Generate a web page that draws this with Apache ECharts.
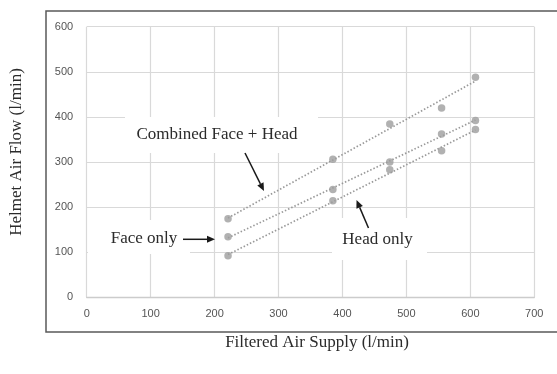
<!DOCTYPE html>
<html>
<head>
<meta charset="utf-8">
<script src="https://cdn.jsdelivr.net/npm/echarts@6/dist/echarts.min.js"></script>
<style>
html,body{margin:0;padding:0;background:#fff;}
#c{width:557px;height:374px;}
</style>
</head>
<body>
<div id="c"></div>
<script>
var supply = [221, 385, 474, 555, 608];
var combined = [174, 306, 384, 420, 488];
var faceOnly = [134, 239, 300, 362, 392];
var headOnly = [92, 214, 283, 325, 372];
var xTicks = [0, 100, 200, 300, 400, 500, 600, 700];
var yTicks = [0, 100, 200, 300, 400, 500, 600];
var xTitle = 'Filtered Air Supply (l/min)';
var yTitle = 'Helmet Air Flow (l/min)';
var labels = ['Combined Face + Head', 'Face only', 'Head only'];

function pairs(xs, ys) { return xs.map(function (x, i) { return [x, ys[i]]; }); }
function trend(xs, ys) {
  var n = xs.length, mx = 0, my = 0;
  for (var i = 0; i < n; i++) { mx += xs[i]; my += ys[i]; }
  mx /= n; my /= n;
  var sxy = 0, sxx = 0;
  for (i = 0; i < n; i++) { sxy += (xs[i] - mx) * (ys[i] - my); sxx += (xs[i] - mx) * (xs[i] - mx); }
  var b = sxy / sxx, a = my - b * mx;
  var x0 = Math.min.apply(null, xs), x1 = Math.max.apply(null, xs);
  return [[x0, a + b * x0], [x1, a + b * x1]];
}

var ptColor = '#9e9e9e';
var lnColor = '#999999';
var series = [];
[combined, faceOnly, headOnly].forEach(function (ys) {
  series.push({
    type: 'line', data: trend(supply, ys), symbol: 'none', silent: true, z: 2,
    lineStyle: { color: lnColor, width: 1.7, type: [1.5, 2] }
  });
});
[combined, faceOnly, headOnly].forEach(function (ys) {
  series.push({
    type: 'scatter', data: pairs(supply, ys), symbol: 'circle', symbolSize: 7.5, z: 3,
    itemStyle: { color: ptColor }
  });
});

function arrow(x1, y1, x2, y2) {
  var ang = Math.atan2(y2 - y1, x2 - x1), L = 8, W = 3.5;
  var bx = x2 - L * Math.cos(ang), by = y2 - L * Math.sin(ang);
  var px = -Math.sin(ang) * W, py = Math.cos(ang) * W;
  return [
    { type: 'line', z: 10, shape: { x1: x1, y1: y1, x2: bx, y2: by }, style: { stroke: '#1a1a1a', lineWidth: 1.5 } },
    { type: 'polygon', z: 10, shape: { points: [[x2, y2], [bx + px, by + py], [bx - px, by - py]] }, style: { fill: '#1a1a1a' } }
  ];
}

var serif = '"Liberation Serif", "DejaVu Serif", serif';
var tc = '#2b2b2b';
var graphics = [
  { type: 'rect', z: -1, shape: { x: 46, y: 11, width: 530, height: 321 }, style: { fill: 'none', stroke: '#5a5a5a', lineWidth: 1.5 } },
  { type: 'rect', z: 1, shape: { x: 125, y: 117, width: 193, height: 36 }, style: { fill: '#fff' } },
  { type: 'rect', z: 1, shape: { x: 88, y: 220, width: 102, height: 34 }, style: { fill: '#fff' } },
  { type: 'rect', z: 1, shape: { x: 332, y: 218, width: 95, height: 42 }, style: { fill: '#fff' } },
  { type: 'text', z: 10, x: 217, y: 135, style: { text: labels[0], font: '17px ' + serif, fill: tc, textAlign: 'center', textVerticalAlign: 'middle' } },
  { type: 'text', z: 10, x: 144, y: 238.5, style: { text: labels[1], font: '17px ' + serif, fill: tc, textAlign: 'center', textVerticalAlign: 'middle' } },
  { type: 'text', z: 10, x: 377.5, y: 240, style: { text: labels[2], font: '17px ' + serif, fill: tc, textAlign: 'center', textVerticalAlign: 'middle' } },
  { type: 'text', z: 10, x: 317, y: 343, style: { text: xTitle, font: '17px ' + serif, fill: tc, textAlign: 'center', textVerticalAlign: 'middle' } },
  { type: 'text', z: 10, x: 17, y: 152, rotation: Math.PI / 2, style: { text: yTitle, font: '17px ' + serif, fill: tc, textAlign: 'center', textVerticalAlign: 'middle' } }
].concat(arrow(245, 153, 264, 191), arrow(183, 239.3, 215, 239.3), arrow(368.5, 228, 356.5, 200));

var chart = echarts.init(document.getElementById('c'), null, { renderer: 'canvas' });
chart.setOption({
  animation: false,
  backgroundColor: '#fff',
  grid: { left: 86.7, right: 22.7, top: 26.7, bottom: 76.7, containLabel: false },
  xAxis: {
    type: 'value', min: xTicks[0], max: xTicks[xTicks.length - 1], interval: 100,
    axisLine: { show: true, lineStyle: { color: '#cccccc', width: 1.3 } },
    axisTick: { show: false },
    axisLabel: { color: '#555555', fontSize: 11, fontFamily: '"Liberation Sans", Arial, sans-serif', margin: 11 },
    splitLine: { show: true, lineStyle: { color: '#d9d9d9', width: 1.2 } }
  },
  yAxis: {
    type: 'value', min: yTicks[0], max: yTicks[yTicks.length - 1], interval: 100,
    axisLine: { show: false },
    axisTick: { show: false },
    axisLabel: { color: '#555555', fontSize: 11, fontFamily: '"Liberation Sans", Arial, sans-serif', margin: 13.5 },
    splitLine: { show: true, lineStyle: { color: '#d9d9d9', width: 1.2 } }
  },
  series: series,
  graphic: graphics
});
</script>
</body>
</html>
